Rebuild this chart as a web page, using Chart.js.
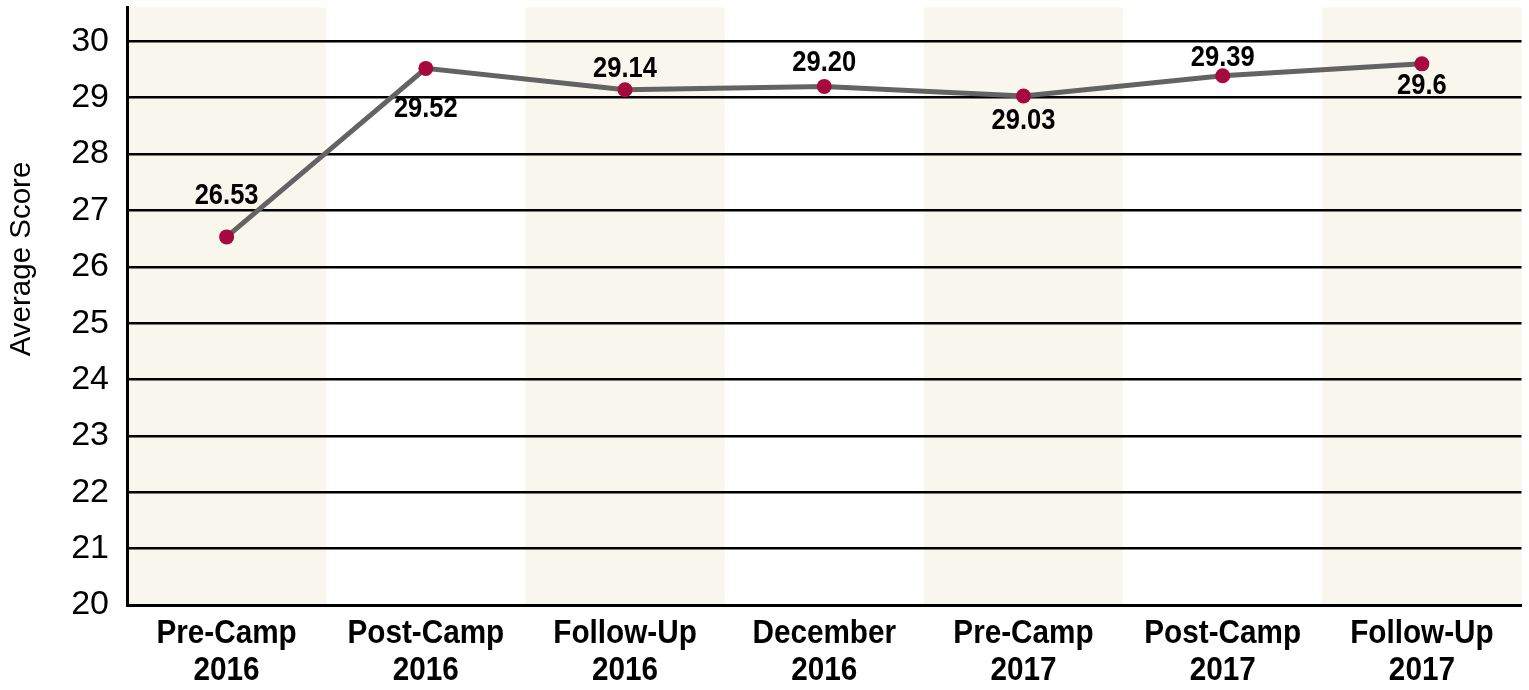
<!DOCTYPE html>
<html>
<head>
<meta charset="utf-8">
<script src="https://cdn.jsdelivr.net/npm/chart.js@4"></script>
<style>
  html, body { margin: 0; padding: 0; background: #fff; }
  #wrap { width: 1529px; height: 690px; }
</style>
</head>
<body>
<div id="wrap"><canvas id="scoreChart" width="1529" height="690"></canvas></div>
<script>
// Average score per survey wave
const categories = [
  ['Pre-Camp', '2016'], ['Post-Camp', '2016'], ['Follow-Up', '2016'], ['December', '2016'],
  ['Pre-Camp', '2017'], ['Post-Camp', '2017'], ['Follow-Up', '2017']
];
const scores = [26.53, 29.52, 29.14, 29.20, 29.03, 29.39, 29.6];
const scoreLabels = ['26.53', '29.52', '29.14', '29.20', '29.03', '29.39', '29.6'];
const yTicks = [20, 21, 22, 23, 24, 25, 26, 27, 28, 29, 30];

// where each value label sits relative to its point (px, negative = above)
const labelShift = [-41, 41, -21, -23, 25, -18, 22];

const font = "'Liberation Sans', Arial, sans-serif";

// draw text a little condensed, like the original's narrow bold face
function narrowText(ctx, text, x, y, k) {
  ctx.save();
  ctx.translate(x, y);
  ctx.scale(k, 1);
  ctx.fillText(text, 0, 0);
  ctx.restore();
}

// shaded columns behind every other category
const bandPlugin = {
  id: 'bands',
  beforeDraw(chart) {
    const { ctx, chartArea, scales } = chart;
    const x = scales.x;
    const w = (chartArea.right - chartArea.left) / categories.length;
    ctx.save();
    ctx.fillStyle = '#f9f6ee';
    for (let i = 0; i < categories.length; i += 2) {
      const cx = x.getPixelForValue(i);
      ctx.fillRect(cx - w / 2, chartArea.top, w, chartArea.bottom - chartArea.top);
    }
    ctx.restore();
  }
};

const textPlugin = {
  id: 'texts',
  afterDatasetsDraw(chart) {
    const { ctx, chartArea, scales } = chart;
    const meta = chart.getDatasetMeta(0);
    ctx.save();
    ctx.fillStyle = '#000';
    ctx.textAlign = 'center';

    // value labels
    ctx.font = 'bold 29px ' + font;
    ctx.textBaseline = 'middle';
    meta.data.forEach((pt, i) => {
      narrowText(ctx, scoreLabels[i], pt.x, pt.y + labelShift[i], 0.88);
    });

    // category labels under the axis
    ctx.font = 'bold 33px ' + font;
    ctx.textBaseline = 'alphabetic';
    categories.forEach((lines, i) => {
      const cx = scales.x.getPixelForValue(i);
      lines.forEach((t, j) => {
        narrowText(ctx, t, cx, chartArea.bottom + 38 + j * 37, 0.9);
      });
    });

    // y axis title, sits a bit above the middle in the original
    ctx.font = '29.5px ' + font;
    ctx.textBaseline = 'middle';
    ctx.translate(22, 259);
    ctx.rotate(-Math.PI / 2);
    ctx.fillText('Average Score', 0, 0);
    ctx.restore();
  }
};

const ctx = document.getElementById('scoreChart').getContext('2d');
const scoreChart = new Chart(ctx, {
  type: 'line',
  data: {
    labels: categories,
    datasets: [{
      label: 'Average Score',
      data: scores,
      borderColor: '#636363',
      borderWidth: 5,
      pointBackgroundColor: '#a6093d',
      pointBorderColor: '#a6093d',
      pointRadius: 7.5,
      pointBorderWidth: 0,
      tension: 0,
      fill: false
    }]
  },
  options: {
    responsive: false,
    animation: false,
    layout: { padding: { left: 0, right: 7, top: 5, bottom: 0 } },
    plugins: {
      legend: { display: false },
      tooltip: { enabled: false }
    },
    scales: {
      x: {
        offset: true,
        grid: { display: false, drawTicks: false },
        border: { display: true, color: '#000', width: 3 },
        ticks: { display: false },
        afterFit(scale) {
          scale.height = 85;
          scale.paddingLeft = 0;
          scale.paddingRight = 0;
        }
      },
      y: {
        min: 20,
        max: 30.6,
        afterBuildTicks(scale) {
          scale.ticks = yTicks.map(v => ({ value: v }));
        },
        grid: { color: '#000', lineWidth: 2.5, drawTicks: false },
        border: { display: true, color: '#000', width: 3 },
        ticks: {
          color: '#000',
          padding: 18,
          font: { family: font, size: 34 }
        },
        afterFit(scale) {
          scale.width = 127;
          scale.paddingTop = 0;
          scale.paddingBottom = 0;
        }
      }
    }
  },
  plugins: [bandPlugin, textPlugin]
});
</script>
</body>
</html>
